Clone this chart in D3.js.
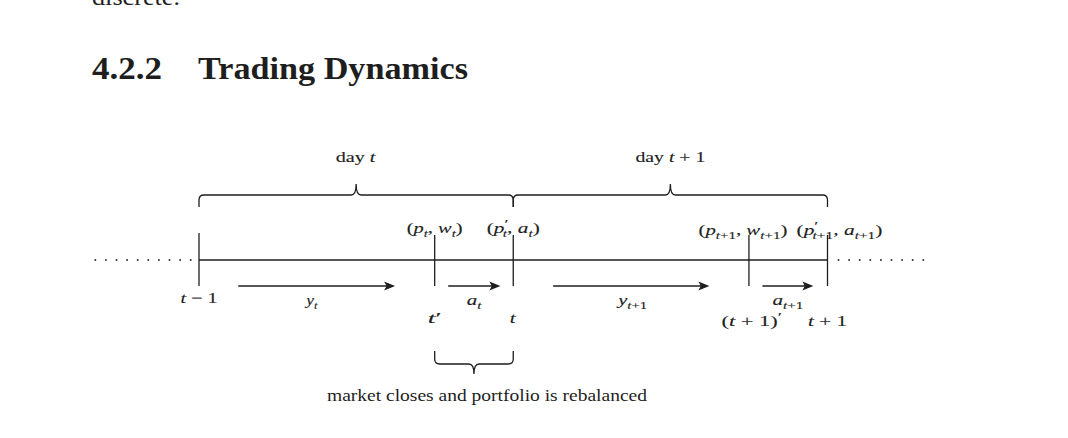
<!DOCTYPE html>
<html><head><meta charset="utf-8">
<script src="https://cdn.jsdelivr.net/npm/d3@7"></script>
<style>body{margin:0;background:#fff}svg{display:block}</style>
</head><body>
<svg id="c" width="1068" height="438"></svg>
<script>
// ---------------- data ----------------
const timePoints = [0, 0.75, 1, 1.75, 2];               // t-1, t', t, (t+1)', t+1
const timeLabels = [
  [["t","i"],[" − 1","r"]],
  [["t","i"],["′","r"]],
  [["t","i"]],
  [["(","r"],["t","i"],[" + 1)","r"],["′","sup"]],
  [["t","i"],[" + 1","r"]]
];
const stateLabels = [   // attached to t', t, (t+1)', t+1
  [["(","r"],["p","i"],["t","sub"],[", ","r"],["w","i"],["t","sub"],[")","r"]],
  [["(","r"],["p","i"],["′","sup"],["t","sub",-4],[", ","r"],["a","i"],["t","sub"],[")","r"]],
  [["(","r"],["p","i"],["t","sub"],["+1","subr"],[", ","r"],["w","i"],["t","sub"],["+1","subr"],[")","r"]],
  [["(","r"],["p","i"],["′","sup"],["t","sub",-4],["+1","subr"],[", ","r"],["a","i"],["t","sub"],["+1","subr"],[")","r"]]
];
const arrowFrom = [0.125, 0.793, 1.127, 1.793];
const arrowTo   = [0.624, 0.959, 1.624, 1.955];
const arrowLabels = [
  [["y","i"],["t","sub"]],
  [["a","i"],["t","sub"]],
  [["y","i"],["t","sub"],["+1","subr"]],
  [["a","i"],["t","sub"],["+1","subr"]]
];
const dayFrom = [0, 1];
const dayTo   = [1, 2];
const dayLabels = [
  [["day ","r"],["t","i"]],
  [["day ","r"],["t","i"],[" + 1","r"]]
];
const rebalanceSpan = [0.75, 1];
const rebalanceText = "market closes and portfolio is rebalanced";
const dotExtents = [[-0.33, -0.025], [2.035, 2.31]];
const sectionNumber = "4.2.2";
const sectionTitle = "Trading Dynamics";
const previousText = "discrete.";

// ---------------- layout ----------------
const svg = d3.select("#c");
const ink = "#1e1e1e";
const FONT = "'Liberation Serif', 'Times New Roman', serif";
const x = d3.scaleLinear().domain([0, 2]).range([199, 827.5]);
const yLine = 260;

function mathLabel(parent, segs, cx, by, size, targetW) {
  const g = parent.append("g").attr("transform", `translate(${cx},${by})`);
  const t = g.append("text").attr("font-family", FONT).attr("font-size", size).attr("fill", ink)
    .attr("stroke", ink).attr("stroke-width", 0.12);
  let cur = 0;
  segs.forEach(s => {
    const [txt, kind, dx] = s;
    let off = 0, fs = size, it = false;
    if (kind === "i") it = true;
    if (kind === "sub") { off = size * 0.25; fs = size * 0.72; it = true; }
    if (kind === "subr") { off = size * 0.25; fs = size * 0.72; }
    if (kind === "sup") { off = -size * 0.35; fs = size * 0.85; }
    const ts = t.append("tspan").text(txt).attr("font-size", fs)
      .attr("font-style", it ? "italic" : "normal")
      .attr("dy", off - cur);
    if (dx) ts.attr("dx", dx);
    cur = off;
  });
  const bb = t.node().getBBox();
  const sx = targetW ? targetW / bb.width : 1;
  t.attr("transform", `scale(${sx},1) translate(${-(bb.x + bb.width / 2)},0)`);
  return g;
}
function plainText(str, lx, by, size, targetW, bold) {
  const t = svg.append("text").attr("x", lx).attr("y", by)
    .attr("font-family", FONT).attr("font-size", size).attr("fill", ink)
    .attr("font-weight", bold ? "bold" : "normal").text(str);
  if (targetW) t.attr("textLength", targetW).attr("lengthAdjust", "spacingAndGlyphs");
  return t;
}

// header text
plainText(previousText, 92, 5, 24, 88, false);
plainText(sectionNumber, 92, 79, 31, 70, true);
plainText(sectionTitle, 198, 79, 31, 270, true);

// dotted continuation
dotExtents.forEach(([a, b]) => {
  svg.append("line").attr("x1", x(a)).attr("x2", x(b)).attr("y1", yLine).attr("y2", yLine)
    .attr("stroke", "#333").attr("stroke-width", 2).attr("stroke-linecap", "round")
    .attr("stroke-dasharray", "0 10.6");
});

// main timeline
svg.append("line").attr("x1", x(timePoints[0])).attr("x2", x(timePoints[timePoints.length - 1]))
  .attr("y1", yLine).attr("y2", yLine).attr("stroke", ink).attr("stroke-width", 1.3);

// ticks
timePoints.forEach((p, i) => {
  svg.append("line").attr("x1", x(p)).attr("x2", x(p))
    .attr("y1", i === 0 ? 233 : 235).attr("y2", 286)
    .attr("stroke", ink).attr("stroke-width", 1.3);
});
// tick labels
const tickLabelW = [37, 14, 7, 61, 39];
timeLabels.forEach((segs, i) => {
  mathLabel(svg, segs, x(timePoints[i]) + (i === 3 ? 3 : 0), i === 0 ? 303 : (i < 3 ? 323 : 326), 15, tickLabelW[i]);
});

// state labels above ticks
const stateNudge = [0, 0, -6, 12];
const stateW = [56, 53, 89, 86];
stateLabels.forEach((segs, i) => {
  mathLabel(svg, segs, x(timePoints[i + 1]) + stateNudge[i], i < 2 ? 233 : 235, 15, stateW[i]);
});

// arrows
const arrowW = [14, 15, 32, 31];
const arrowLabelY = [305, 305, 305, 305];
arrowFrom.forEach((a, i) => {
  const x1 = x(a), x2 = x(arrowTo[i]), ya = 286;
  svg.append("line").attr("x1", x1).attr("x2", x2 - 8).attr("y1", ya).attr("y2", ya)
    .attr("stroke", ink).attr("stroke-width", 1.6);
  svg.append("path").attr("d", `M${x2},${ya} L${x2 - 11},${ya - 4.5} L${x2 - 8.5},${ya} L${x2 - 11},${ya + 4.5} Z`)
    .attr("fill", ink);
  mathLabel(svg, arrowLabels[i], (x1 + x2) / 2 + (i === 0 ? -6 : 0), arrowLabelY[i], 14, arrowW[i]);
});

// braces
function brace(x1, x2, yEnd, yH, yTip, r) {
  const xm = (x1 + x2) / 2, d = Math.sign(yEnd - yH);
  return `M${x1},${yEnd} V${yH + d * r} Q${x1},${yH} ${x1 + r},${yH} H${xm - r} ` +
         `Q${xm},${yH} ${xm},${yTip} Q${xm},${yH} ${xm + r},${yH} H${x2 - r} ` +
         `Q${x2},${yH} ${x2},${yH + d * r} V${yEnd}`;
}
const dayW = [41, 70];
dayFrom.forEach((a, i) => {
  svg.append("path").attr("d", brace(x(a), x(dayTo[i]), 207, 195, 184, 5))
    .attr("fill", "none").attr("stroke", ink).attr("stroke-width", 1.3);
  mathLabel(svg, dayLabels[i], x((a + dayTo[i]) / 2), 162, 15, dayW[i]);
});
svg.append("path").attr("d", brace(x(rebalanceSpan[0]), x(rebalanceSpan[1]), 351, 364, 374, 5))
  .attr("fill", "none").attr("stroke", ink).attr("stroke-width", 1.3);
plainText(rebalanceText, 327, 401, 17, 320, false);
</script>
</body></html>
